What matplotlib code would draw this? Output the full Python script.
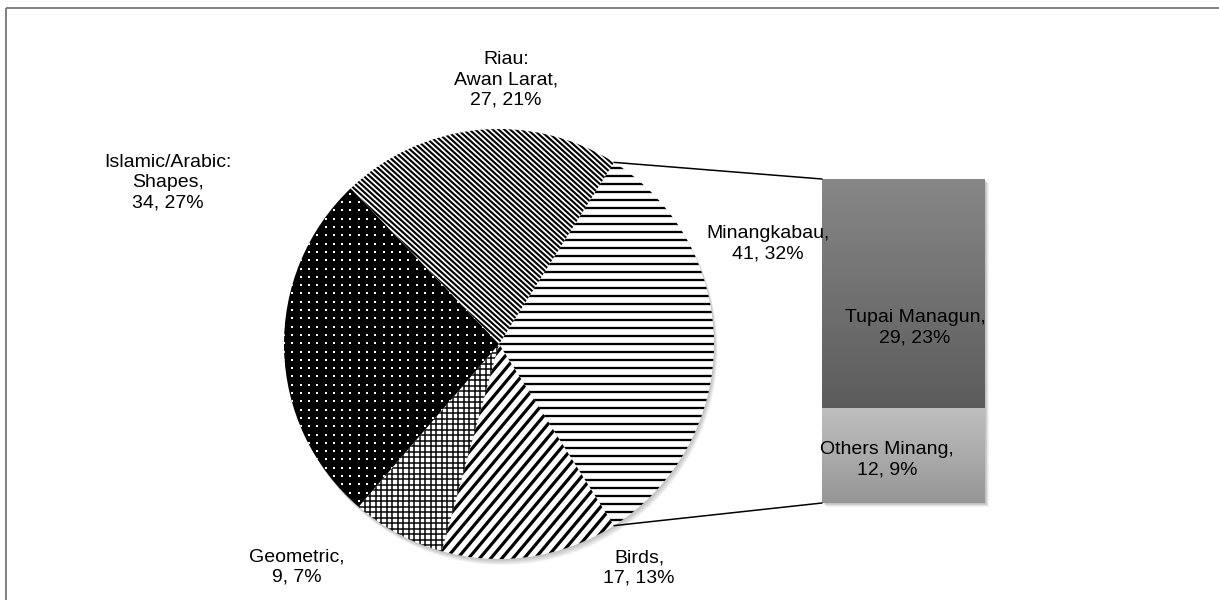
import numpy as np
import matplotlib
matplotlib.use('Agg')
import matplotlib.pyplot as plt
from matplotlib.collections import LineCollection
from matplotlib.patches import ConnectionPatch, Rectangle, Circle
from matplotlib.colors import LinearSegmentedColormap
from matplotlib import font_manager

# ---------------- data ----------------
pie_names = ['Minangkabau', 'Birds', 'Geometric', 'Islamic/Arabic:\nShapes', 'Riau:\nAwan Larat']
pie_values = [41, 17, 9, 34, 27]
bar_names = ['Others Minang', 'Tupai Managun']
bar_values = [12, 29]
total = sum(pie_values)

# ---------------- figure ----------------
W, H = 1219, 600
fig = plt.figure(figsize=(W / 100, H / 100), dpi=100)
fig.patch.set_facecolor('white')

available = {f.name for f in font_manager.fontManager.ttflist}
fam = [f for f in ['Liberation Sans Narrow', 'Liberation Sans', 'DejaVu Sans'] if f in available]
narrow = 'Liberation Sans Narrow' in available
plt.rcParams['font.family'] = fam
FS = 15 if narrow else 14

# background / frame axes in pixel coordinates
bg = fig.add_axes([0, 0, 1, 1], zorder=-5)
bg.set_xlim(0, W)
bg.set_ylim(H, 0)
bg.axis('off')
bg.plot([6, W], [8, 8], color='#808080', lw=1.4, solid_capstyle='butt')
bg.plot([6, 6], [8, H], color='#808080', lw=1.4, solid_capstyle='butt')

# ---------------- pie ----------------
cx, cy, R = 499, 344, 215
ax = fig.add_axes([(cx - R) / W, (H - cy - R) / H, 2 * R / W, 2 * R / H])
start = 360.0 * pie_values[0] / total / 2.0
faces = ['white', 'white', 'white', 'black', 'white']
wedges, _ = ax.pie(pie_values, startangle=start, counterclock=False, radius=1,
                   colors=faces, wedgeprops=dict(linewidth=0))
for w in wedges:
    w.set_zorder(2)

# soft shadow under the pie
for k in range(1, 7):
    ax.add_patch(Circle((0.6 / R * k, -1.0 / R * k), 1.0, color='black',
                        alpha=0.045, lw=0, zorder=0, clip_on=False))

px = 1.0 / R


def hatch_lines(wedge, angle_deg, spacing_px, lw_px, color):
    a = np.radians(angle_deg)
    d = np.array([np.cos(a), np.sin(a)])
    n = np.array([-np.sin(a), np.cos(a)])
    s = spacing_px * px
    ks = np.arange(-1.6 / s, 1.6 / s + 1)
    segs = [[tuple(k * s * n - 1.6 * d), tuple(k * s * n + 1.6 * d)] for k in ks]
    lc = LineCollection(segs, colors=color, linewidths=lw_px * 0.72, zorder=3)
    lc.set_clip_path(wedge)
    ax.add_collection(lc, autolim=False)


# Minangkabau: horizontal lines
hatch_lines(wedges[0], 0, 8.0, 2.3, 'black')
# Birds: wide diagonal stripes
hatch_lines(wedges[1], 50, 8.5, 3.2, 'black')
# Geometric: fine grid
hatch_lines(wedges[2], 0, 5.5, 1.5, 'black')
hatch_lines(wedges[2], 90, 5.5, 1.5, 'black')
# Riau: dense diagonal lines
hatch_lines(wedges[4], -42, 3.9, 2.1, 'black')
# Islamic: white dots on black
sp = 8.3 * px
g = np.arange(-1.0, 1.0 + sp, sp)
gx, gy = np.meshgrid(g, g)
sc = ax.scatter(gx.ravel(), gy.ravel(), s=4.0, marker='s', color='white',
                linewidths=0, zorder=3)
sc.set_clip_path(wedges[3])

ax.set_xlim(-1, 1)
ax.set_ylim(-1, 1)
ax.axis('off')

# ---------------- bar ----------------
bx0, bx1, by0, by1 = 822, 985, 179, 503
bax = fig.add_axes([bx0 / W, (H - by1) / H, (bx1 - bx0) / W, (by1 - by0) / H])
bottoms = [0, bar_values[0]]
bars = bax.bar([0, 0], bar_values, bottom=bottoms, width=1.0,
               color=['#a8a8a8', '#707070'], linewidth=0, zorder=2)
grads = [('#bfbfbf', '#969696'), ('#878787', '#5c5c5c')]
for b, (ctop, cbot), bot, v in zip(bars, grads, bottoms, bar_values):
    cmap = LinearSegmentedColormap.from_list('g', [cbot, ctop])
    grad = np.linspace(0, 1, 256).reshape(-1, 1)
    im = bax.imshow(grad, extent=[-0.5, 0.5, bot, bot + v], origin='lower',
                    aspect='auto', cmap=cmap, zorder=3)
    im.set_clip_path(b)
# bar shadow
tot_b = sum(bar_values)
for k in range(1, 6):
    bax.add_patch(Rectangle((-0.5 + k * 0.8 / (bx1 - bx0), -k * 0.8 / (by1 - by0) * tot_b),
                            1.0, tot_b, color='black', alpha=0.05, lw=0,
                            zorder=0, clip_on=False))
bax.set_xlim(-0.5, 0.5)
bax.set_ylim(0, tot_b)
bax.axis('off')

# ---------------- connector lines ----------------
t1 = np.radians(start)
t2 = np.radians(start - 360.0 * pie_values[0] / total)
for (t, yb) in [(t1, tot_b), (t2, 0)]:
    con = ConnectionPatch(xyA=(np.cos(t), np.sin(t)), coordsA=ax.transData,
                          xyB=(-0.5, yb), coordsB=bax.transData,
                          color='black', lw=1.1, zorder=1)
    fig.add_artist(con)

# ---------------- labels ----------------
def lab(name, v):
    return f"{name},\n{v}, {round(100 * v / total)}%"


label_pos = {
    'Riau:\nAwan Larat': (506, 80),
    'Islamic/Arabic:\nShapes': (168, 183),
    'Minangkabau': (768, 244),
    'Birds': (639, 568),
    'Geometric': (297, 567),
}
for name, v in zip(pie_names, pie_values):
    x, y = label_pos[name]
    fig.text(x / W, 1 - y / H, lab(name, v), ha='center', va='center',
             multialignment='center', fontsize=FS, color='black', linespacing=1.25)

bar_pos = {'Tupai Managun': (915, 328), 'Others Minang': (887, 460)}
for name, v in zip(bar_names, bar_values):
    x, y = bar_pos[name]
    fig.text(x / W, 1 - y / H, lab(name, v), ha='center', va='center',
             multialignment='center', fontsize=FS, color='black', linespacing=1.25,
             zorder=10)

fig.savefig('out.png', dpi=100, facecolor='white')
